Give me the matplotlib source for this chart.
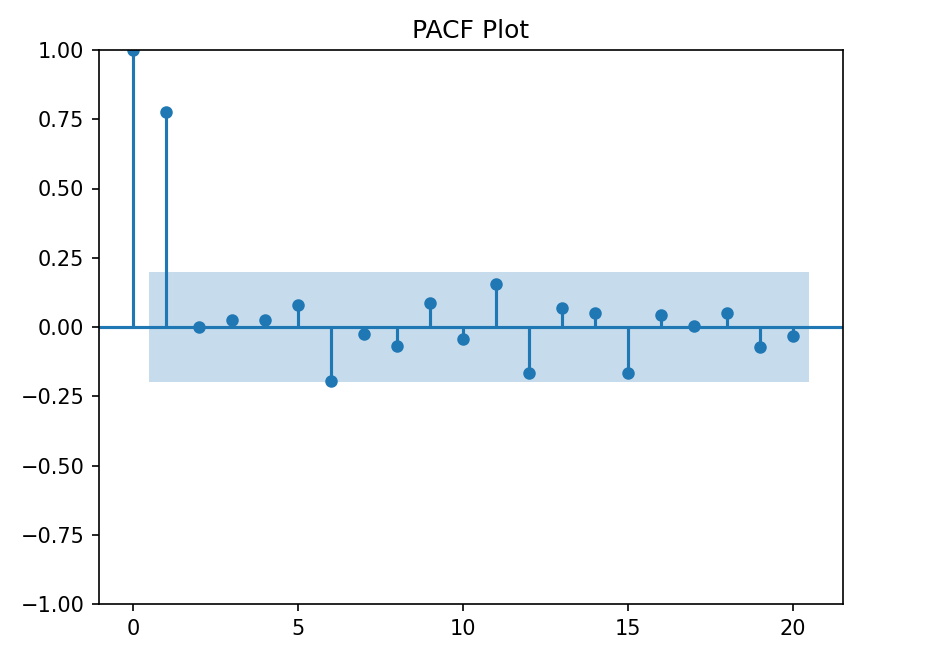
import numpy as np
import matplotlib
matplotlib.use("Agg")
import matplotlib.pyplot as plt

lags = list(range(21))
pacf_vals = [1.0, 0.776, 0.0, 0.027, 0.027, 0.081, -0.194, -0.027, -0.070, 0.086, -0.044,
             0.154, -0.165, 0.067, 0.052, -0.165, 0.043, 0.003, 0.052, -0.072, -0.034]
conf = 0.197
title = "PACF Plot"

fig = plt.figure(figsize=(935/150, 665/150), dpi=150)
ax = fig.add_axes([99/935, 61/665, 744/935, 554/665])

ax.vlines(lags, 0, pacf_vals, color="C0")
ax.axhline(0, color="C0")
ax.plot(lags, pacf_vals, "o", color="C0", markersize=5)
band_x = np.array(lags[1:], dtype=float)
band_x[0] -= 0.5
band_x[-1] += 0.5
ax.fill_between(band_x, -conf, conf, color="C0", alpha=0.25, linewidth=0)
ax.set_xlim(-1.025, 21.525)
ax.set_ylim(-1, 1)
ax.set_xticks([0, 5, 10, 15, 20])
ax.set_yticks([-1, -0.75, -0.5, -0.25, 0, 0.25, 0.5, 0.75, 1.0])
ax.set_title(title)

fig.savefig("out.png", dpi=150)
